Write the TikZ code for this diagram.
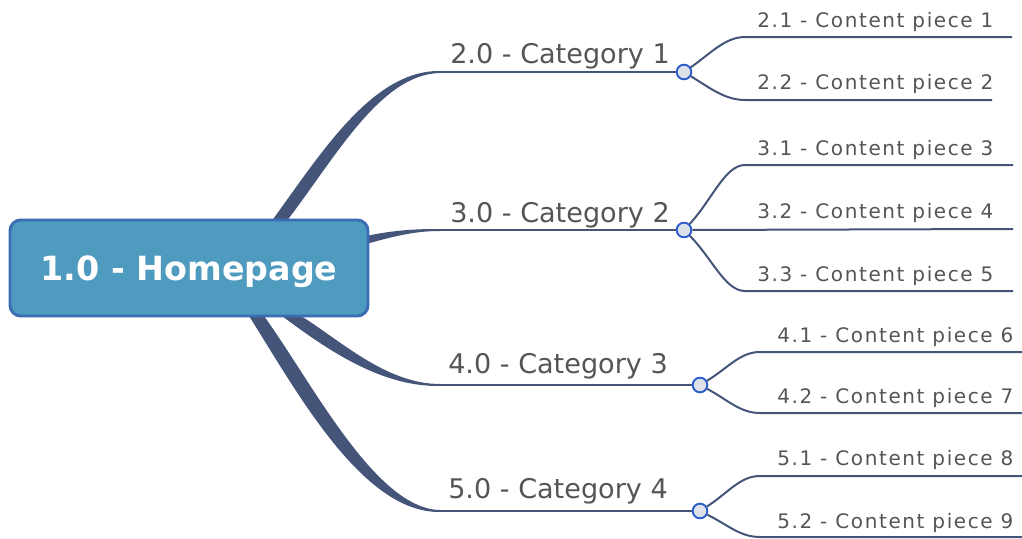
\documentclass[tikz,border=0pt]{standalone}
\usepackage{fontspec}
\setmainfont{DejaVu Sans}
\definecolor{branchcol}{HTML}{45557A}
\definecolor{homefill}{HTML}{4F9BC0}
\definecolor{homeedge}{HTML}{3A6DB5}
\definecolor{hubfill}{HTML}{DCE1EA}
\definecolor{hubedge}{HTML}{2B5ACD}
\definecolor{labelcol}{HTML}{555555}
\tikzset{
  homebox/.style={draw=homeedge, line width=2.2pt, fill=homefill, rounded corners=8pt,
    minimum width=268.5pt, minimum height=72pt, inner sep=0pt, text depth=0pt, text=white,
    font=\fontsize{25}{30}\selectfont\bfseries},
  hub/.style={circle, draw=hubedge, fill=hubfill, line width=1.4pt, minimum size=11pt, inner sep=0pt},
  catline/.style={draw=branchcol, line width=1.9pt},
  leafline/.style={draw=branchcol, line width=1.5pt},
  catlabel/.style={anchor=base west, inner sep=0pt, text=labelcol, font=\fontsize{20.3}{24}\selectfont},
  leaflabel/.style={anchor=base west, inner sep=0pt, text=labelcol,
    font=\fontsize{15}{18}\selectfont\addfontfeature{LetterSpace=8}},
}
\begin{document}
\begin{tikzpicture}[x=0.75pt, y=-0.75pt]
\useasboundingbox (0,0) rectangle (1022,539);

% main branches, thick at the box and thin at the category line
\fill[branchcol] (271,250) -- (271,222) .. controls (320,155) and (372,70) .. (440,71)
  -- (440,73) .. controls (380,74) and (334,160) .. (286,222) -- (286,250) -- cycle;
\fill[branchcol] (340,236) -- (366,236) .. controls (395,230) and (415,229) .. (440,229)
  -- (440,231) .. controls (415,231) and (395,236) .. (366,244) -- (340,244) -- cycle;
\fill[branchcol] (282,300) -- (282,316) .. controls (325,348) and (380,387) .. (440,386)
  -- (440,384) .. controls (386,384) and (340,340) .. (301,316) -- (301,300) -- cycle;
\fill[branchcol] (249,300) -- (249,316) .. controls (296,390) and (362,513) .. (440,512)
  -- (440,510) .. controls (376,509) and (313,384) .. (264,316) -- (264,300) -- cycle;

\node[homebox] (home) at (189,268) {1.0 - Homepage};

% categories
\coordinate (c1a) at (440,72);
\coordinate (c2a) at (440,230);
\coordinate (c3a) at (440,385);
\coordinate (c4a) at (440,511);
\node[hub] (c1hub) at (684,72) {};
\node[hub] (c2hub) at (684,230) {};
\node[hub] (c3hub) at (700,385) {};
\node[hub] (c4hub) at (700,511) {};
\draw[catline] (c1a) -- (c1hub);
\draw[catline] (c2a) -- (c2hub);
\draw[catline] (c3a) -- (c3hub);
\draw[catline] (c4a) -- (c4hub);
\node[catlabel] (c1) at (450,63) {2.0 - Category 1};
\node[catlabel] (c2) at (450,222) {3.0 - Category 2};
\node[catlabel] (c3) at (448,373) {4.0 - Category 3};
\node[catlabel] (c4) at (448,498) {5.0 - Category 4};

% content pieces
\coordinate (p1) at (1012,37);
\coordinate (p2) at (992,100);
\coordinate (p3) at (1013,165);
\coordinate (p4) at (1013,229);
\coordinate (p5) at (1013,291);
\coordinate (p6) at (1022,352);
\coordinate (p7) at (1022,413);
\coordinate (p8) at (1022,476);
\coordinate (p9) at (1022,537);
\draw[leafline] (c1hub) .. controls (710,54) and (725,37) .. (745,37) -- (p1);
\draw[leafline] (c1hub) .. controls (710,88) and (725,100) .. (745,100) -- (p2);
\draw[leafline] (c2hub) .. controls (712,200) and (725,165) .. (745,165) -- (p3);
\draw[leafline] (c2hub) -- (p4);
\draw[leafline] (c2hub) .. controls (712,258) and (725,291) .. (745,291) -- (p5);
\draw[leafline] (c3hub) .. controls (728,368) and (740,352) .. (760,352) -- (p6);
\draw[leafline] (c3hub) .. controls (728,400) and (740,413) .. (760,413) -- (p7);
\draw[leafline] (c4hub) .. controls (728,493) and (740,476) .. (760,476) -- (p8);
\draw[leafline] (c4hub) .. controls (728,525) and (740,537) .. (760,537) -- (p9);
\node[leaflabel] (l1) at (757,27) {2.1 - Content piece 1};
\node[leaflabel] (l2) at (757,89) {2.2 - Content piece 2};
\node[leaflabel] (l3) at (757,155) {3.1 - Content piece 3};
\node[leaflabel] (l4) at (757,218) {3.2 - Content piece 4};
\node[leaflabel] (l5) at (757,281) {3.3 - Content piece 5};
\node[leaflabel] (l6) at (777,342) {4.1 - Content piece 6};
\node[leaflabel] (l7) at (777,403) {4.2 - Content piece 7};
\node[leaflabel] (l8) at (777,465) {5.1 - Content piece 8};
\node[leaflabel] (l9) at (777,528) {5.2 - Content piece 9};
\end{tikzpicture}
\end{document}
